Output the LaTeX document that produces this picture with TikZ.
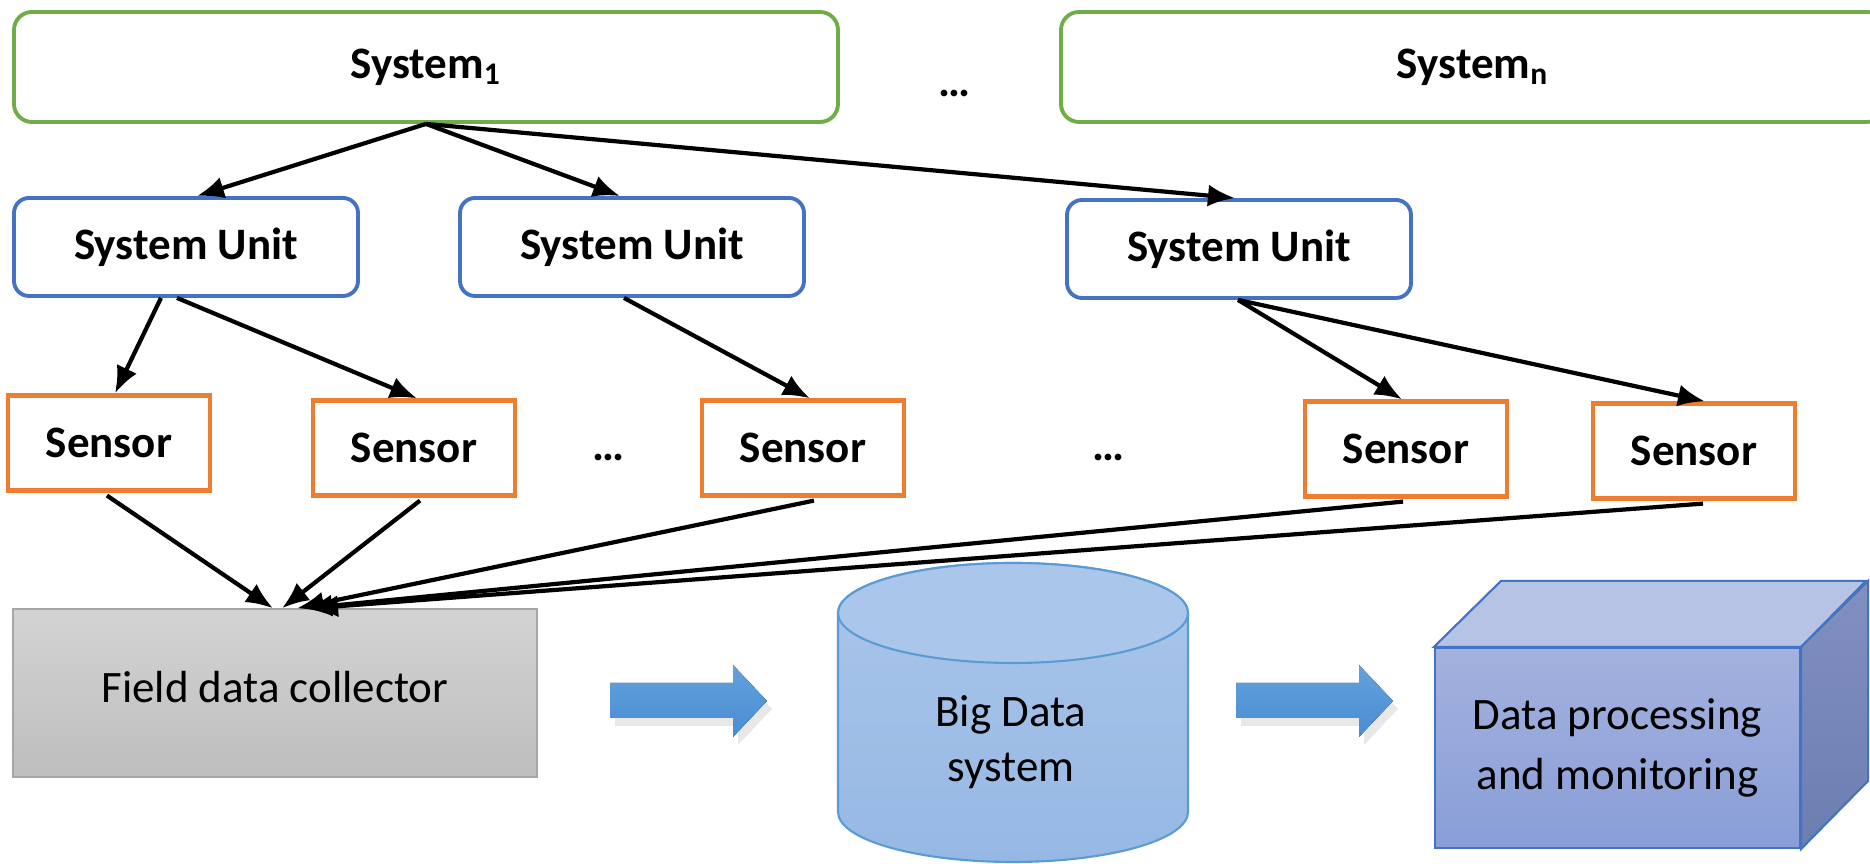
\documentclass[tikz,border=0pt]{standalone}
\usepackage{fontspec}
\setmainfont{Carlito}
\usetikzlibrary{arrows.meta,shadows}
\definecolor{sysgreen}{HTML}{70AD47}
\definecolor{unitblue}{HTML}{4472C4}
\definecolor{sensororange}{HTML}{ED7D31}
\definecolor{collecttop}{HTML}{D3D3D3}
\definecolor{collectbot}{HTML}{BEBEBE}
\definecolor{flowtop}{HTML}{62A2DD}
\definecolor{flowbot}{HTML}{4A8CD2}
\definecolor{cyltop}{HTML}{AAC6EA}
\definecolor{cylbot}{HTML}{96B8E4}
\definecolor{cylline}{HTML}{5B9BD5}
\definecolor{cubetop}{HTML}{B6C3E4}
\definecolor{cubefronttop}{HTML}{A3B1DD}
\definecolor{cubefrontbot}{HTML}{899ED8}
\definecolor{cubesidetop}{HTML}{8190C0}
\definecolor{cubesidebot}{HTML}{6C7DB0}
\tikzset{
  sysbox/.style={draw=sysgreen,line width=1.1pt,rounded corners=0.18cm,
    minimum width=8.24cm,minimum height=1.1cm,font=\bfseries\fontsize{12.8}{16}\selectfont},
  unitbox/.style={draw=unitblue,line width=1.1pt,rounded corners=0.15cm,
    minimum width=3.44cm,minimum height=0.98cm,font=\bfseries\fontsize{12.8}{16}\selectfont},
  sensorbox/.style={draw=sensororange,line width=1.2pt,
    minimum width=2.02cm,minimum height=0.95cm,font=\bfseries\fontsize{12.8}{16}\selectfont},
  dots/.style={anchor=base,font=\bfseries\fontsize{12.8}{16}\selectfont},
  link/.style={-{Latex[length=2.7mm,width=2.2mm]},line width=1.2pt},
  flow/.style={top color=flowtop,bottom color=flowbot,
    drop shadow={shadow xshift=0.5mm,shadow yshift=-0.8mm,opacity=0.18}}
}
\begin{document}
\begin{tikzpicture}[font=\fontsize{12.8}{17}\selectfont]
  \useasboundingbox (0,0) rectangle (18.7,8.64);
  \node[sysbox] (sys1) at (4.26,7.97) {System\textsubscript{1}};
  \node[sysbox] (sysn) at (14.73,7.97) {System\textsubscript{n}};
  \node[dots] (d1) at (9.54,7.67) {\ldots};
  \node[unitbox] (su1) at (1.86,6.17) {System Unit};
  \node[unitbox] (su2) at (6.32,6.17) {System Unit};
  \node[unitbox] (su3) at (12.39,6.15) {System Unit};
  \node[sensorbox] (s1) at (1.09,4.21) {Sensor};
  \node[sensorbox] (s2) at (4.14,4.16) {Sensor};
  \node[sensorbox] (s3) at (8.03,4.16) {Sensor};
  \node[sensorbox] (s4) at (14.06,4.15) {Sensor};
  \node[sensorbox] (s5) at (16.94,4.13) {Sensor};
  \node[dots] (d2) at (6.08,4.03) {\ldots};
  \node[dots] (d3) at (11.08,4.03) {\ldots};
  \foreach \a/\sa/\b/\sb in {sys1/0/su1/1.1,sys1/0/su2/-1.2,sys1/0/su3/-0.4,
    su1/-2.5/s1/0.6,su1/-0.9/s2/0.3,su2/-0.8/s3/0.7,su3/-0.1/s4/-0.4,su3/-0.1/s5/1.1}
    \draw[link] ([xshift=\sa mm]\a.south) -- ([xshift=\sb mm]\b.north);
  \node[draw=black!35,top color=collecttop,bottom color=collectbot,
    minimum width=5.24cm,minimum height=1.68cm] (fdc) at (2.75,1.71)
    {\raisebox{1.3mm}{Field data collector}};
  \foreach \s/\sa/\e in {s1/-0.2/-0.2,s2/0.6/0.7,s3/1.1/2.2,s4/-0.3/3.0,s5/0.9/3.6}
    \draw[link] ([xshift=\sa mm,yshift=-0.3mm]\s.south) -- ([xshift=\e mm]fdc.north);
  \foreach \x in {6.10,12.36}
    \fill[flow] (\x,1.46) -- ++(1.23,0) -- ++(0,-0.19) -- ++(0.34,0.36)
      -- ++(-0.34,0.36) -- ++(0,-0.18) -- ++(-1.23,0) -- cycle;
  \draw[cylline,line width=0.6pt,top color=cyltop,bottom color=cylbot]
    (8.38,2.51) -- (8.38,0.52) arc (180:360:1.75 and 0.5) -- (11.88,2.51)
    arc (0:180:1.75 and 0.5) -- cycle;
  \draw[cylline,line width=0.6pt,fill=cyltop] (10.13,2.51) ellipse (1.75 and 0.5);
  \node[align=center,font=\fontsize{12.8}{15.5}\selectfont] (bds) at (10.11,1.22) {Big Data\\system};
  \node[draw=unitblue,line width=0.6pt,top color=cubefronttop,bottom color=cubefrontbot,
    minimum width=3.65cm,minimum height=2cm,align=center] (dpm) at (16.175,1.16)
    {Data processing\\and monitoring};
  \draw[unitblue,line width=0.6pt,fill=cubetop] (dpm.north west) -- ++(0.67,0.66)
    -- ++(3.65,0) -- (dpm.north east) -- cycle;
  \draw[unitblue,line width=0.6pt,top color=cubesidetop,bottom color=cubesidebot]
    (dpm.north east) -- ++(0.67,0.66) -- ++(0,-2) -- (dpm.south east) -- cycle;
\end{tikzpicture}
\end{document}
